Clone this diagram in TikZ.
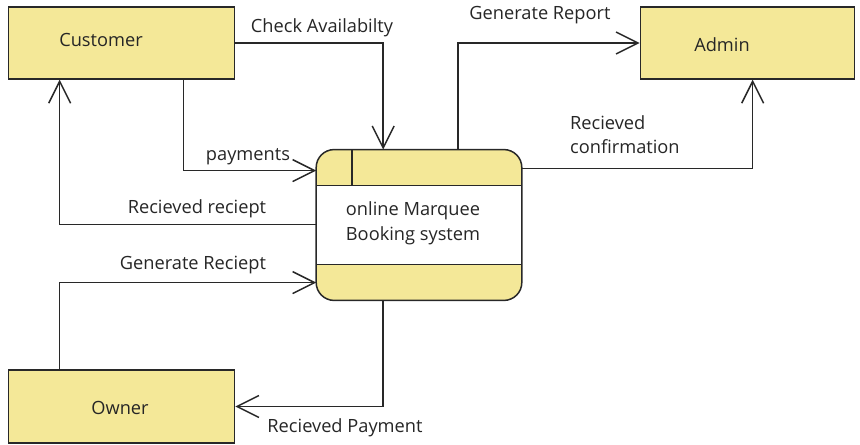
\documentclass[tikz,border=0pt]{standalone}
\usepackage{fontspec}
\setmainfont{Open Sans}
\usetikzlibrary{arrows.meta,calc}
\definecolor{boxfill}{RGB}{244,232,152}
\definecolor{edge}{RGB}{40,40,40}
\tikzset{
  entity/.style={draw=edge,fill=boxfill,line width=1.5pt,minimum height=72,inner sep=0pt},
  flow/.style={draw=edge,line width=1.5pt,-{Straight Barb[length=22pt,width=22pt,line width=1.5pt]}},
  lbl/.style={font=\fontsize{18.3}{22}\selectfont,text=black!85,inner sep=0pt},
}
\begin{document}
\begin{tikzpicture}[x=1bp,y=-1bp]
\useasboundingbox (0,0) rectangle (860,445);
\fill[white] (0,0) rectangle (860,445);

% external entities
\node[entity,minimum width=227] (cust) at (121.5,43) {};
\node[entity,minimum width=215] (admin) at (747.5,43) {};
\node[entity,minimum width=227,minimum height=73] (owner) at (121.5,406.5) {};
\node[lbl] at (101,40) {Customer};
\node[lbl] at (722,45) {Admin};
\node[lbl] at (120,408) {Owner};

% process
\node[minimum width=206,minimum height=151,inner sep=0pt] (sys) at (419,225) {};
\begin{scope}
  \clip[rounded corners=18] (sys.north west) rectangle (sys.south east);
  \fill[white] (sys.north west) rectangle (sys.south east);
  \fill[boxfill] (sys.north west) rectangle ($(sys.north east)+(0,36)$);
  \fill[boxfill] ($(sys.south west)+(0,-36)$) rectangle (sys.south east);
\end{scope}
\draw[edge,line width=1.5pt,rounded corners=18] (sys.north west) rectangle (sys.south east);
\draw[edge,line width=1.5pt] ($(sys.north west)+(0,36)$) -- ($(sys.north east)+(0,36)$);
\draw[edge,line width=1.5pt] ($(sys.south west)+(0,-36)$) -- ($(sys.south east)+(0,-36)$);
\draw[edge,line width=1.5pt] ($(sys.north west)+(36,0)$) -- ($(sys.north west)+(36,36)$);
\node[lbl,align=center,font=\fontsize{18.3}{25}\selectfont] at (413,223) {online Marquee\\Booking system};

% attachment points on the process
\coordinate (sysTa) at ($(sys.north west)+(67,0)$);
\coordinate (sysTb) at ($(sys.north west)+(142,0)$);
\coordinate (sysL1) at ($(sys.north west)+(0,21)$);
\coordinate (sysL2) at ($(sys.north west)+(0,75)$);
\coordinate (sysL3) at ($(sys.north west)+(0,133)$);
\coordinate (sysR1) at ($(sys.north east)+(0,19)$);
\coordinate (sysB) at ($(sys.south west)+(67,0)$);
\coordinate (custB) at ($(cust.south west)+(176,0)$);
\coordinate (custB2) at ($(cust.south west)+(52,0)$);
\coordinate (ownT) at ($(owner.north west)+(52,0)$);
\coordinate (admB) at ($(admin.south west)+(113,0)$);

% data flows
\draw[flow] (cust.east) -| (sysTa);
\draw[flow] (custB) |- (sysL1);
\draw[flow] (sysL2) -| (custB2);
\draw[flow] (ownT) |- (sysL3);
\draw[flow] (sysB) |- (owner.east);
\draw[flow] (sysTb) |- (admin.west);
\draw[flow] (sysR1) -| (admB);

% flow labels
\node[lbl] at (322,28) {Check Availabilty};
\node[lbl] at (248,157) {payments};
\node[lbl] at (197,209) {Recieved reciept};
\node[lbl] at (193,265) {Generate Reciept};
\node[lbl] at (345,428) {Recieved Payment};
\node[lbl] at (540,15) {Generate Report};
\node[lbl,align=left,anchor=west,font=\fontsize{18.3}{24}\selectfont] at (570,135) {Recieved\\confirmation};
\end{tikzpicture}
\end{document}
